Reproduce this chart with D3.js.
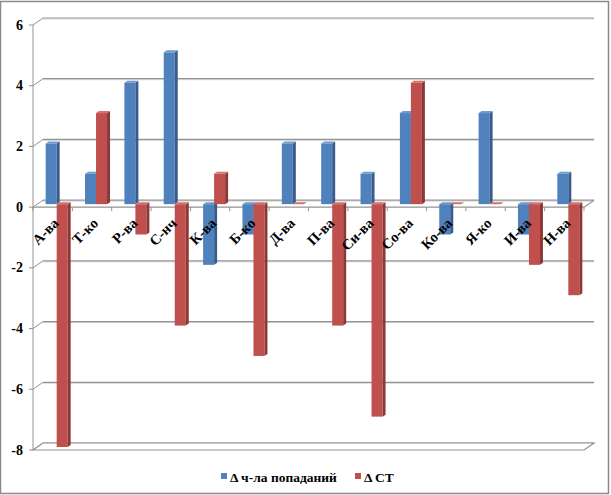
<!DOCTYPE html>
<html><head><meta charset="utf-8">
<script src="https://cdn.jsdelivr.net/npm/d3@7"></script>
<style>body{margin:0;background:#fff}svg{display:block}</style>
</head><body><svg id="c" width="611" height="495" font-family="'Liberation Serif', 'Times New Roman', 'DejaVu Serif', serif" font-weight="bold"></svg>
<script>
const categories = ["А-ва","Т-ко","Р-ва","С-нч","К-ва","Б-ко","Д-ва","П-ва","Си-ва","Со-ва","Ко-ва","Я-ко","И-ва","Н-ва"];
const seriesNames = ["Δ ч-ла попаданий","Δ СТ"];
const hits = [2,1,4,5,-2,-1,2,2,1,3,-1,3,-1,1];
const st = [-8,3,-1,-4,1,-5,0,-4,-7,4,0,0,-2,-3];
const yTicks = [-8,-6,-4,-2,0,2,4,6];

const svg = d3.select("#c");
const colors = [{f:"#4F81BD",s:"#385D8A",t:"#6F9AD0"},{f:"#C0504D",s:"#8C3836",t:"#D4716E"}];
const W = {dx:10, dy:-7};
const B = {dx:4, dy:-3, ddx:3, ddy:-2};

const x = d3.scaleBand().domain(categories).range([33,584]);
const y = d3.scaleLinear().domain([-8,6]).range([450,25]);
const xs = d3.scaleBand().domain([0,1]).range([0,22]);

svg.append("rect").attr("x",0.5).attr("y",1.5).attr("width",608).attr("height",492).attr("fill","#fff").attr("stroke","#8a8a8a").attr("stroke-width",1.5);

const g = svg.append("g");
const gridC = "#939393";
yTicks.forEach(v=>{
  const yy = y(v);
  g.append("line").attr("x1",33+W.dx).attr("x2",584+W.dx).attr("y1",yy+W.dy+1).attr("y2",yy+W.dy+1).attr("stroke","#d8d8d8").attr("stroke-width",1);
  g.append("line").attr("x1",33+W.dx).attr("x2",584+W.dx).attr("y1",yy+W.dy).attr("y2",yy+W.dy).attr("stroke",gridC).attr("stroke-width",1.2);
  g.append("line").attr("x1",33).attr("x2",33+W.dx).attr("y1",yy).attr("y2",yy+W.dy).attr("stroke",gridC).attr("stroke-width",1);
  g.append("line").attr("x1",29).attr("x2",33).attr("y1",yy).attr("y2",yy).attr("stroke",gridC);
  g.append("text").attr("x",23).attr("y",yy+4.5).attr("text-anchor","end").attr("font-size",14).text(v);
});
g.append("line").attr("x1",33).attr("x2",33).attr("y1",y(6)).attr("y2",y(-8)).attr("stroke",gridC);
const yf = y(-8);
g.append("path").attr("d",`M33,${yf}L584,${yf}L${584+W.dx},${yf+W.dy}L${33+W.dx},${yf+W.dy}Z`).attr("fill","#fff").attr("stroke",gridC).attr("stroke-width",1.2);
const y0 = y(0);
g.append("path").attr("d",`M33,${y0}L584,${y0}L${584+W.dx},${y0+W.dy}`).attr("fill","none").attr("stroke",gridC).attr("stroke-width",1.2);
categories.concat([null]).forEach((c,i)=>{
  const xx = c? x(c) : 584;
  g.append("line").attr("x1",xx).attr("x2",xx).attr("y1",y0).attr("y2",y0+4).attr("stroke",gridC);
});

const data = [hits, st];
categories.forEach((c,i)=>{
  [0,1].forEach(s=>{
    const v = data[s][i];
    const x0 = x(c) + x.bandwidth()/2 - 11 + xs(s) + B.dx;
    const x1 = x0 + xs.bandwidth();
    const ytop = Math.min(y(v), y0) + B.dy;
    const ybot = Math.max(y(v), y0) + B.dy;
    const col = colors[s];
    g.append("rect").attr("x",x0).attr("y",ytop).attr("width",x1-x0).attr("height",ybot-ytop).attr("fill",col.f);
    g.append("path").attr("d",`M${x1},${ytop}L${x1+B.ddx},${ytop+B.ddy}L${x1+B.ddx},${ybot+B.ddy}L${x1},${ybot}Z`).attr("fill",col.s);
    g.append("path").attr("d",`M${x0},${ytop}L${x1},${ytop}L${x1+B.ddx},${ytop+B.ddy}L${x0+B.ddx},${ytop+B.ddy}Z`).attr("fill",col.t);
  });
});

categories.forEach(c=>{
  const cx = x(c) + x.bandwidth()/2 + 7;
  g.append("text").attr("transform",`translate(${cx},${y0+17}) rotate(-45)`).attr("text-anchor","end").attr("font-size",14.5).text(c);
});

const leg = svg.append("g");
const lx = [221, 355];
seriesNames.forEach((n,s)=>{
  leg.append("rect").attr("x",lx[s]).attr("y",473).attr("width",6).attr("height",6).attr("fill",colors[s].f);
  leg.append("text").attr("x",lx[s]+9).attr("y",482).attr("font-size",13.5).text(n);
});
</script></body></html>
